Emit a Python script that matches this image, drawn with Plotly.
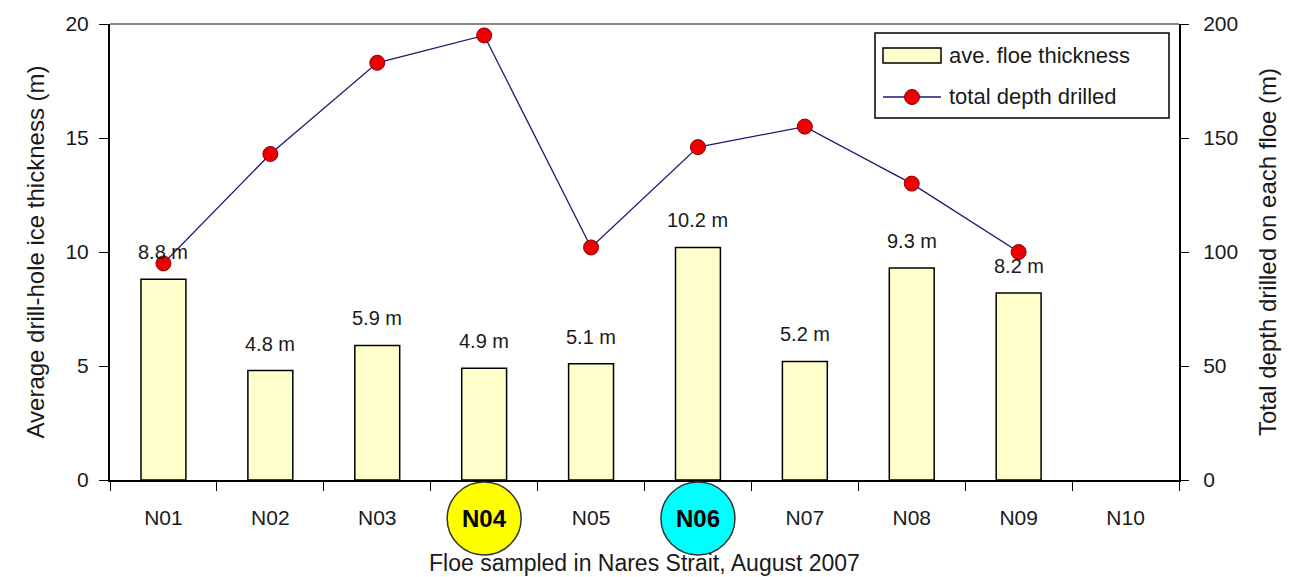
import plotly.graph_objects as go

# Floe data, Nares Strait, August 2007
floes = ["N01", "N02", "N03", "N04", "N05", "N06", "N07", "N08", "N09", "N10"]
thickness = [8.8, 4.8, 5.9, 4.9, 5.1, 10.2, 5.2, 9.3, 8.2, None]      # m
depth_drilled = [95, 143, 183, 195, 102, 146, 155, 130, 100, None]    # m
highlighted = {"N04": "#FFFF00", "N06": "#00FFFF"}

FONT = "Arial, Liberation Sans, sans-serif"
TXT = "#1a1a1a"
BAR_FILL = "#FFFFCC"
LINE_COL = "#1a1a70"
DOT_COL = "#EE0000"
DOT_EDGE = "#880000"

# plot-area geometry in pixels (used to place the hand-drawn legend)
L, R, T, B = 110, 1179, 24, 480


def px(xp):
    return (xp - L) / (R - L)


def py(yp):
    return (B - yp) / (B - T)


fig = go.Figure()

fig.add_trace(go.Bar(
    x=floes, y=thickness, name="ave. floe thickness",
    marker=dict(color=BAR_FILL, line=dict(color="black", width=1.5)),
    width=0.42, yaxis="y", showlegend=False,
))

fig.add_trace(go.Scatter(
    x=floes, y=depth_drilled, name="total depth drilled", mode="lines+markers",
    line=dict(color=LINE_COL, width=1.3),
    marker=dict(color=DOT_COL, size=15, line=dict(color=DOT_EDGE, width=1)),
    yaxis="y2", showlegend=False,
))

# value labels above bars
for f, t in zip(floes, thickness):
    if t is None:
        continue
    fig.add_annotation(x=f, y=t, yref="y", text=f"{t} m", showarrow=False,
                       yanchor="middle", yshift=27,
                       font=dict(family=FONT, size=20, color=TXT))

# highlighted floe labels in coloured circles
tick_text = []
for i, f in enumerate(floes):
    if f in highlighted:
        tick_text.append("")
        fig.add_shape(type="circle", xref="x", yref="paper",
                      xsizemode="pixel", ysizemode="pixel",
                      xanchor=i, yanchor=0, x0=-37, x1=37, y0=-75, y1=-2,
                      fillcolor=highlighted[f], line=dict(color="#333333", width=1.5),
                      layer="above")
        fig.add_annotation(x=f, xref="x", y=0, yref="paper", yshift=-38,
                           text=f"<b>{f}</b>", showarrow=False, yanchor="middle",
                           font=dict(family=FONT, size=24, color="black"))
    else:
        tick_text.append(f)

# grey frame line along the top of the plot area
fig.add_shape(type="line", xref="paper", yref="paper", x0=0, x1=1, y0=1, y1=1,
              line=dict(color="#888888", width=2))

# legend box
fig.add_shape(type="rect", xref="paper", yref="paper",
              x0=px(875), x1=px(1169), y0=py(118), y1=py(33),
              fillcolor="white", line=dict(color="black", width=1.5), layer="above")
# bar entry
fig.add_shape(type="rect", xref="paper", yref="paper",
              x0=px(883), x1=px(941), y0=py(63), y1=py(48),
              fillcolor=BAR_FILL, line=dict(color="black", width=1.5), layer="above")
fig.add_annotation(x=px(947), y=py(55), xref="paper", yref="paper",
                   xanchor="left", yanchor="middle", showarrow=False,
                   text="ave. floe thickness",
                   font=dict(family=FONT, size=22, color=TXT))
# line entry
fig.add_shape(type="line", xref="paper", yref="paper",
              x0=px(883), x1=px(941), y0=py(97), y1=py(97),
              line=dict(color=LINE_COL, width=1.3), layer="above")
fig.add_shape(type="circle", xref="paper", yref="paper",
              xsizemode="pixel", ysizemode="pixel",
              xanchor=px(912), yanchor=py(97), x0=-7.5, x1=7.5, y0=-7.5, y1=7.5,
              fillcolor=DOT_COL, line=dict(color=DOT_EDGE, width=1), layer="above")
fig.add_annotation(x=px(947), y=py(96), xref="paper", yref="paper",
                   xanchor="left", yanchor="middle", showarrow=False,
                   text="total depth drilled",
                   font=dict(family=FONT, size=22, color=TXT))

fig.update_layout(
    width=1291, height=577,
    margin=dict(l=L, r=1291 - R, t=T, b=577 - B),
    paper_bgcolor="white", plot_bgcolor="white",
    font=dict(family=FONT, size=18, color=TXT),
    showlegend=False,
    xaxis=dict(
        type="category", tickmode="array", tickvals=floes, ticktext=tick_text,
        tickson="boundaries", ticks="outside", ticklen=9, tickcolor="black",
        ticklabelstandoff=18, automargin=False,
        showline=True, linecolor="black", linewidth=2,
        showgrid=False, range=[-0.5, 9.5],
        tickfont=dict(family=FONT, size=21, color=TXT),
        title=dict(text="Floe sampled in Nares Strait, August 2007", standoff=27,
                   font=dict(family=FONT, size=23, color=TXT)),
    ),
    yaxis=dict(
        range=[0, 20], dtick=5, ticks="outside", ticklen=9, tickcolor="black",
        ticklabelstandoff=6, automargin=False,
        showline=True, linecolor="black", linewidth=2, showgrid=False, zeroline=False,
        tickfont=dict(family=FONT, size=21, color=TXT),
        title=dict(text="Average drill-hole ice thickness (m)", standoff=14,
                   font=dict(family=FONT, size=24, color=TXT)),
    ),
    yaxis2=dict(
        range=[0, 200], dtick=50, overlaying="y", side="right",
        ticks="outside", ticklen=8, tickcolor="black", ticklabelstandoff=10,
        automargin=False,
        showline=True, linecolor="black", linewidth=2, showgrid=False, zeroline=False,
        tickfont=dict(family=FONT, size=21, color=TXT),
        title=dict(text="Total depth drilled on each floe (m)", standoff=22,
                   font=dict(family=FONT, size=24, color=TXT)),
    ),
    # inner half of the crossing ticks on the right axis
    yaxis3=dict(
        range=[0, 200], dtick=50, overlaying="y", side="right", anchor="x",
        ticks="inside", ticklen=8, tickcolor="black", showticklabels=False,
        automargin=False,
        showline=False, showgrid=False, zeroline=False,
    ),
)

fig.write_html("out.html")
